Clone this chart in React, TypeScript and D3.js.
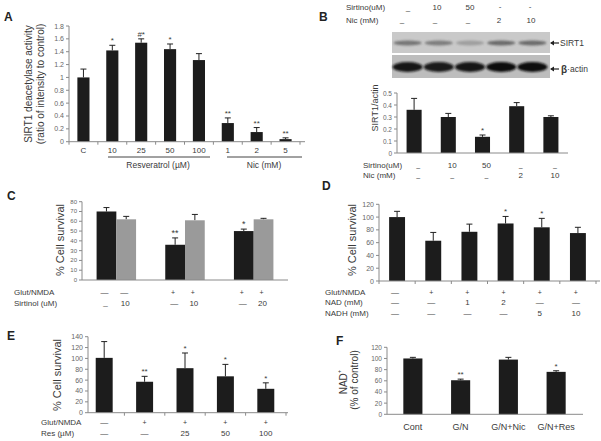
import React from 'react';
import * as d3 from 'd3';

const FONT = "'Liberation Sans', Arial, Helvetica, sans-serif";
const TXT = '#3a3a3a';
const TICKTXT = '#666';
const AXIS = '#8a8a8a';
const BAR = '#1c1c1c';
const GRAY = '#9a9a9a';

// ---------- Panel A ----------
const aCategories = ['C', '10', '25', '50', '100', '1', '2', '5'];
const aValues = [1.0, 1.42, 1.54, 1.44, 1.27, 0.29, 0.15, 0.04];
const aErrors = [0.13, 0.08, 0.06, 0.08, 0.1, 0.08, 0.07, 0.02];
const aSig = ['', '*', '#*', '*', '', '**', '**', '**'];
const aTicks = [0, 0.2, 0.4, 0.6, 0.8, 1, 1.2, 1.4, 1.6, 1.8];
const aTickLabels = ['0', '0.2', '0.4', '0.6', '0.8', '1', '1.2', '1.4', '1.6', '1.8'];
const aGroupNames = ['Resveratrol (\u00B5M)', 'Nic (mM)'];

// ---------- Panel B ----------
const bLanes = ['L1', 'L2', 'L3', 'L4', 'L5'];
const bSirtinol = ['\u2013', '10', '50', '-', '-'];
const bNic = ['\u2013', '\u2013', '\u2013', '2', '10'];
const bSirtinolBottom = ['\u2013', '10', '50', '\u2013', '\u2013'];
const bNicBottom = ['\u2013', '\u2013', '\u2013', '2', '10'];
const bValues = [0.36, 0.3, 0.135, 0.39, 0.3];
const bErrors = [0.095, 0.03, 0.015, 0.03, 0.01];
const bSig = ['', '', '*', '', ''];
const bTicks = [0, 0.1, 0.2, 0.3, 0.4, 0.5];
const bTickLabels = ['0', '0.1', '0.2', '0.3', '0.4', '0.5'];
const bSirt1Band = [0.55, 0.5, 0.28, 0.62, 0.62];
const bActinBand = [0.95, 0.92, 0.95, 1, 1];

// ---------- Panel C ----------
const cGroups = ['G1', 'G2', 'G3'];
const cSeries = ['black', 'gray'];
const cBlack = [70, 36, 50];
const cBlackErr = [4, 7, 2];
const cGray = [62, 61, 62];
const cGrayErr = [3, 6, 1];
const cSig = ['', '**', '*'];
const cTicks = [0, 10, 20, 30, 40, 50, 60, 70, 80];
const cGlut = ['\u2014', '\u2014', '+', '+', '+', '+'];
const cSirtinol = ['_', '10', '\u2014', '10', '\u2014', '20'];

// ---------- Panel D ----------
const dCategories = ['D1', 'D2', 'D3', 'D4', 'D5', 'D6'];
const dValues = [100, 63, 77, 90, 84, 75];
const dErrors = [9, 13, 12, 11, 14, 9];
const dSig = ['', '', '', '*', '*', ''];
const dTicks = [0, 20, 40, 60, 80, 100, 120];
const dGlut = ['\u2014', '+', '+', '+', '+', '+'];
const dNad = ['\u2014', '\u2014', '1', '2', '\u2014', '\u2014'];
const dNadh = ['\u2014', '\u2014', '\u2014', '\u2014', '5', '10'];

// ---------- Panel E ----------
const eCategories = ['E1', 'E2', 'E3', 'E4', 'E5'];
const eValues = [101, 57, 82, 67, 44];
const eErrors = [30, 10, 28, 22, 11];
const eSig = ['', '**', '*', '*', '*'];
const eTicks = [0, 20, 40, 60, 80, 100, 120, 140];
const eGlut = ['\u2014', '+', '+', '+', '+'];
const eRes = ['\u2014', '\u2014', '25', '50', '100'];
const eRowLabels = ['Glut/NMDA', 'Res (\u00B5M)'];

// ---------- Panel F ----------
const fCategories = ['Cont', 'G/N', 'G/N+Nic', 'G/N+Res'];
const fValues = [100, 61, 98, 76];
const fErrors = [2, 2, 4, 2];
const fSig = ['', '**', '', '*'];
const fTicks = [0, 20, 40, 60, 80, 100, 120];

type Scale = d3.ScaleLinear<number, number>;

function YAxis({ y, x, ticks, labels, size = 7 }: { y: Scale; x: number; ticks: number[]; labels?: string[]; size?: number }) {
  const [d0, d1] = y.domain();
  return (
    <g>
      <line x1={x} x2={x} y1={y(d0)} y2={y(d1)} stroke={AXIS} strokeWidth={1} />
      {ticks.map((t, i) => (
        <g key={i}>
          <line x1={x - 3} x2={x} y1={y(t)} y2={y(t)} stroke={AXIS} strokeWidth={1} />
          <text x={x - 5} y={y(t)} textAnchor="end" dominantBaseline="central" fontSize={size} fill={TICKTXT} fontFamily={FONT}>
            {labels ? labels[i] : String(t)}
          </text>
        </g>
      ))}
    </g>
  );
}

function XAxis({ y0, x0, x1, boundaries }: { y0: number; x0: number; x1: number; boundaries: number[] }) {
  return (
    <g>
      <line x1={x0} x2={x1} y1={y0} y2={y0} stroke={AXIS} strokeWidth={1} />
      {boundaries.map((b, i) => (
        <line key={i} x1={b} x2={b} y1={y0} y2={y0 + 3} stroke={AXIS} strokeWidth={1} />
      ))}
    </g>
  );
}

function BarWithErr({ x, w, y, v, e, s, fill = BAR, sigSize = 8, cap = 6 }: { x: number; w: number; y: Scale; v: number; e: number; s?: string; fill?: string; sigSize?: number; cap?: number }) {
  const cx = x + w / 2;
  const top = y(v + e);
  return (
    <g>
      <line x1={cx} x2={cx} y1={y(v)} y2={top} stroke="#222" strokeWidth={1} />
      <line x1={cx - cap / 2} x2={cx + cap / 2} y1={top} y2={top} stroke="#222" strokeWidth={1} />
      <rect x={x} y={y(v)} width={w} height={y(0) - y(v)} fill={fill} />
      {s ? (
        <text x={cx} y={top - 2} textAnchor="middle" fontSize={sigSize} fill={TXT} fontFamily={FONT}>
          {s}
        </text>
      ) : null}
    </g>
  );
}

function RotTitle({ x, y, text, size = 10, children }: { x: number; y: number; text?: string; size?: number; children?: React.ReactNode }) {
  return (
    <text transform={`translate(${x},${y}) rotate(-90)`} textAnchor="middle" dominantBaseline="central" fontSize={size} fill={TXT} fontFamily={FONT}>
      {children ?? text}
    </text>
  );
}

function Label({ x, y, text, size = 8, anchor = 'middle', bold = false, fill = TXT }: { x: number; y: number; text: string; size?: number; anchor?: string; bold?: boolean; fill?: string }) {
  return (
    <text x={x} y={y} textAnchor={anchor as any} dominantBaseline="central" fontSize={size} fill={fill} fontFamily={FONT} fontWeight={bold ? 'bold' : 'normal'}>
      {text}
    </text>
  );
}

function boundariesOf(x: d3.ScaleBand<string>, r: [number, number]) {
  const n = x.domain().length;
  const step = (r[1] - r[0]) / n;
  return d3.range(n + 1).map((i) => r[0] + i * step);
}

function PanelA() {
  const r: [number, number] = [69, 300];
  const x = d3.scaleBand().domain(aCategories).range(r).paddingInner(0.58).paddingOuter(0.29);
  const y = d3.scaleLinear().domain([0, 1.8]).range([141.7, 26]);
  const c = (k: string) => (x(k) as number) + x.bandwidth() / 2;
  return (
    <g>
      <Label x={4} y={17} text="A" size={12} anchor="start" bold fill="#222" />
      <RotTitle x={28} y={84} text="SIRT1 deacetylase activity" size={10} />
      <RotTitle x={40} y={84} text="(ratio of intensity to control)" size={10} />
      <YAxis y={y} x={69} ticks={aTicks} labels={aTickLabels} size={7} />
      {aCategories.map((k, i) => (
        <BarWithErr key={k} x={x(k) as number} w={x.bandwidth()} y={y} v={aValues[i]} e={aErrors[i]} s={aSig[i]} />
      ))}
      <XAxis y0={y(0)} x0={69} x1={305} boundaries={boundariesOf(x, r)} />
      {aCategories.map((k) => (
        <Label key={k} x={c(k)} y={150} text={k} size={8} />
      ))}
      <line x1={108} x2={210} y1={157} y2={157} stroke="#444" strokeWidth={1} />
      <line x1={227} x2={302} y1={157} y2={157} stroke="#444" strokeWidth={1} />
      <Label x={158} y={165} text={aGroupNames[0]} size={8.5} />
      <Label x={264} y={165} text={aGroupNames[1]} size={8.5} />
    </g>
  );
}

function PanelB() {
  const r: [number, number] = [397, 568];
  const x = d3.scaleBand().domain(bLanes).range(r).paddingInner(0.56).paddingOuter(0.28);
  const y = d3.scaleLinear().domain([0, 0.5]).range([153, 93]);
  const c = (k: string) => (x(k) as number) + x.bandwidth() / 2;
  const blotX = d3.scaleBand().domain(bLanes).range([392, 548]).paddingInner(0.1).paddingOuter(0.05);
  const bc = (k: string) => (blotX(k) as number) + blotX.bandwidth() / 2;
  const headX = [408, 437, 470, 500, 530];
  const headX2 = [402, 435, 468, 499, 531];
  return (
    <g>
      <Label x={319} y={17} text="B" size={12} anchor="start" bold fill="#222" />
      <Label x={346} y={7} text="Sirtino(uM)" size={8} anchor="start" />
      <Label x={346} y={20} text="Nic  (mM)" size={8} anchor="start" />
      {bSirtinol.map((t, i) => (
        <Label key={'h1' + i} x={headX[i]} y={t === '\u2013' ? 10 : t === '-' ? 6 : 7} text={t} size={8} />
      ))}
      {bNic.map((t, i) => (
        <Label key={'h2' + i} x={headX2[i]} y={t === '\u2013' ? 22.5 : 20} text={t} size={8} />
      ))}
      {/* blot */}
      <defs>
        <filter id="blur1" x="-20%" y="-50%" width="140%" height="200%">
          <feGaussianBlur stdDeviation="1.2" />
        </filter>
      </defs>
      <rect x={392} y={32} width={158} height={21} fill="#c9c9c9" />
      <rect x={392} y={55} width={158} height={23} fill="#bdbdbd" />
      {bLanes.map((k, i) => (
        <ellipse key={'s' + k} cx={bc(k)} cy={43} rx={blotX.bandwidth() / 2} ry={2.4} fill="#333" opacity={bSirt1Band[i]} filter="url(#blur1)" />
      ))}
      {bLanes.map((k, i) => (
        <ellipse key={'a' + k} cx={bc(k)} cy={67} rx={blotX.bandwidth() / 2 + 1} ry={5} fill="#111" opacity={bActinBand[i]} filter="url(#blur1)" />
      ))}
      <line x1={551} x2={559} y1={43} y2={43} stroke="#222" strokeWidth={1.2} />
      <path d="M550,43 L554,40.5 L554,45.5 Z" fill="#222" />
      <Label x={560} y={43} text="SIRT1" size={8.5} anchor="start" />
      <line x1={551} x2={559} y1={69} y2={69} stroke="#222" strokeWidth={1.2} />
      <path d="M550,69 L554,66.5 L554,71.5 Z" fill="#222" />
      <text x={561} y={69} dominantBaseline="central" fontSize={8.5} fill={TXT} fontFamily={FONT}>
        <tspan fontWeight="bold" fontSize={10}>β</tspan>
        <tspan>·actin</tspan>
      </text>
      {/* bar plot */}
      <RotTitle x={375} y={108} text="SIRT1/actin" size={9} />
      <YAxis y={y} x={397} ticks={bTicks} labels={bTickLabels} size={6.5} />
      {bLanes.map((k, i) => (
        <BarWithErr key={k} x={x(k) as number} w={x.bandwidth()} y={y} v={bValues[i]} e={bErrors[i]} s={bSig[i]} />
      ))}
      <XAxis y0={y(0)} x0={397} x1={568} boundaries={[]} />
      <Label x={363} y={165} text="Sirtino(uM)" size={8} anchor="start" />
      <Label x={363} y={175} text="Nic  (mM)" size={8} anchor="start" />
      {bSirtinolBottom.map((t, i) => (
        <Label key={'b1' + i} x={c(bLanes[i]) + 4} y={t === '\u2013' ? 167 : 165} text={t} size={t === '\u2013' ? 7 : 8} />
      ))}
      {bNicBottom.map((t, i) => (
        <Label key={'b2' + i} x={c(bLanes[i]) + 4} y={t === '\u2013' ? 177 : 175.5} text={t} size={t === '\u2013' ? 7 : 8} />
      ))}
    </g>
  );
}

function PanelC() {
  const r: [number, number] = [82, 288];
  const x = d3.scaleBand().domain(cGroups).range(r).paddingInner(0.425).paddingOuter(0.2125);
  const xs = d3.scaleBand().domain(cSeries).range([0, x.bandwidth()]);
  const y = d3.scaleLinear().domain([0, 80]).range([280, 201.7]);
  const pos: number[] = [];
  cGroups.forEach((g) => cSeries.forEach((s) => pos.push((x(g) as number) + (xs(s) as number) + xs.bandwidth() / 2)));
  return (
    <g>
      <Label x={7} y={196} text="C" size={12} anchor="start" bold fill="#222" />
      <RotTitle x={60} y={240} text="% Cell survival" size={11} />
      <YAxis y={y} x={82} ticks={cTicks} size={6} />
      {cGroups.map((g, i) => (
        <g key={g}>
          <BarWithErr x={(x(g) as number) + (xs('black') as number)} w={xs.bandwidth()} y={y} v={cBlack[i]} e={cBlackErr[i]} s={cSig[i]} sigSize={9} />
          <BarWithErr x={(x(g) as number) + (xs('gray') as number)} w={xs.bandwidth()} y={y} v={cGray[i]} e={cGrayErr[i]} fill={GRAY} />
        </g>
      ))}
      <XAxis y0={y(0)} x0={82} x1={288} boundaries={[]} />
      <Label x={14} y={292} text="Glut/NMDA" size={8} anchor="start" />
      <Label x={14} y={303} text="Sirtinol (uM)" size={8} anchor="start" />
      {cGlut.map((t, i) => (
        <Label key={'g' + i} x={pos[i] - 2} y={292} text={t} size={t === '+' ? 7 : 8} />
      ))}
      {cSirtinol.map((t, i) => (
        <Label key={'s' + i} x={pos[i] - 1} y={t === '_' ? 302 : 303} text={t} size={8} />
      ))}
    </g>
  );
}

function PanelD() {
  const r: [number, number] = [379, 596];
  const x = d3.scaleBand().domain(dCategories).range(r).paddingInner(0.56).paddingOuter(0.28);
  const y = d3.scaleLinear().domain([0, 120]).range([281, 204.3]);
  const c = (k: string) => (x(k) as number) + x.bandwidth() / 2;
  return (
    <g>
      <Label x={322} y={186} text="D" size={12} anchor="start" bold fill="#222" />
      <RotTitle x={352} y={240} text="% Cell survival" size={11} />
      <YAxis y={y} x={379} ticks={dTicks} size={7} />
      {dCategories.map((k, i) => (
        <BarWithErr key={k} x={x(k) as number} w={x.bandwidth()} y={y} v={dValues[i]} e={dErrors[i]} s={dSig[i]} />
      ))}
      <XAxis y0={y(0)} x0={379} x1={600} boundaries={boundariesOf(x, r)} />
      <Label x={325} y={292} text="Glut/NMDA" size={8} anchor="start" />
      <Label x={325} y={302.5} text="NAD (mM)" size={8} anchor="start" />
      <Label x={325} y={313} text="NADH (mM)" size={8} anchor="start" />
      {dGlut.map((t, i) => (
        <Label key={'g' + i} x={c(dCategories[i]) - 2} y={292} text={t} size={t === '+' ? 7 : 8} />
      ))}
      {dNad.map((t, i) => (
        <Label key={'n' + i} x={c(dCategories[i]) - 2} y={302.5} text={t} size={8} />
      ))}
      {dNadh.map((t, i) => (
        <Label key={'h' + i} x={c(dCategories[i]) - 2} y={313} text={t} size={8} />
      ))}
    </g>
  );
}

function PanelE() {
  const r: [number, number] = [84, 286];
  const x = d3.scaleBand().domain(eCategories).range(r).paddingInner(0.58).paddingOuter(0.29);
  const y = d3.scaleLinear().domain([0, 140]).range([412.7, 336.7]);
  const c = (k: string) => (x(k) as number) + x.bandwidth() / 2;
  return (
    <g>
      <Label x={7} y={336} text="E" size={12} anchor="start" bold fill="#222" />
      <RotTitle x={57} y={375} text="% Cell survival" size={11} />
      <YAxis y={y} x={88} ticks={eTicks} size={7} />
      {eCategories.map((k, i) => (
        <BarWithErr key={k} x={x(k) as number} w={x.bandwidth()} y={y} v={eValues[i]} e={eErrors[i]} s={eSig[i]} />
      ))}
      <XAxis y0={y(0)} x0={88} x1={288} boundaries={boundariesOf(x, r).slice(1)} />
      <Label x={41} y={422} text={eRowLabels[0]} size={8} anchor="start" />
      <Label x={41} y={433} text={eRowLabels[1]} size={8} anchor="start" />
      {eGlut.map((t, i) => (
        <Label key={'g' + i} x={c(eCategories[i])} y={422} text={t} size={t === '+' ? 7 : 8} />
      ))}
      {eRes.map((t, i) => (
        <Label key={'r' + i} x={c(eCategories[i])} y={433} text={t} size={8} />
      ))}
    </g>
  );
}

function PanelF() {
  const r: [number, number] = [389, 580];
  const x = d3.scaleBand().domain(fCategories).range(r).paddingInner(0.6).paddingOuter(0.3);
  const y = d3.scaleLinear().domain([0, 120]).range([414.3, 347.3]);
  const c = (k: string) => (x(k) as number) + x.bandwidth() / 2;
  return (
    <g>
      <Label x={336} y={341} text="F" size={12} anchor="start" bold fill="#222" />
      <RotTitle x={343} y={382} size={10}>
        <tspan>NAD</tspan>
        <tspan fontSize={6} dy={-4}>+</tspan>
      </RotTitle>
      <RotTitle x={354} y={380} text="(% of control)" size={10} />
      <YAxis y={y} x={387} ticks={fTicks} size={6.5} />
      {fCategories.map((k, i) => (
        <BarWithErr key={k} x={x(k) as number} w={x.bandwidth()} y={y} v={fValues[i]} e={fErrors[i]} s={fSig[i]} />
      ))}
      <XAxis y0={y(0)} x0={387} x1={583} boundaries={[]} />
      {fCategories.map((k) => (
        <Label key={k} x={c(k)} y={427} text={k} size={9} />
      ))}
    </g>
  );
}

export default function App() {
  return (
    <svg
      width={601}
      height={441}
      viewBox="0 0 601 441"
      style={{ position: 'absolute', left: 0, top: 0, background: '#fff' }}
    >
      <rect x={0} y={0} width={601} height={441} fill="#fff" />
      <PanelA />
      <PanelB />
      <PanelC />
      <PanelD />
      <PanelE />
      <PanelF />
    </svg>
  );
}
